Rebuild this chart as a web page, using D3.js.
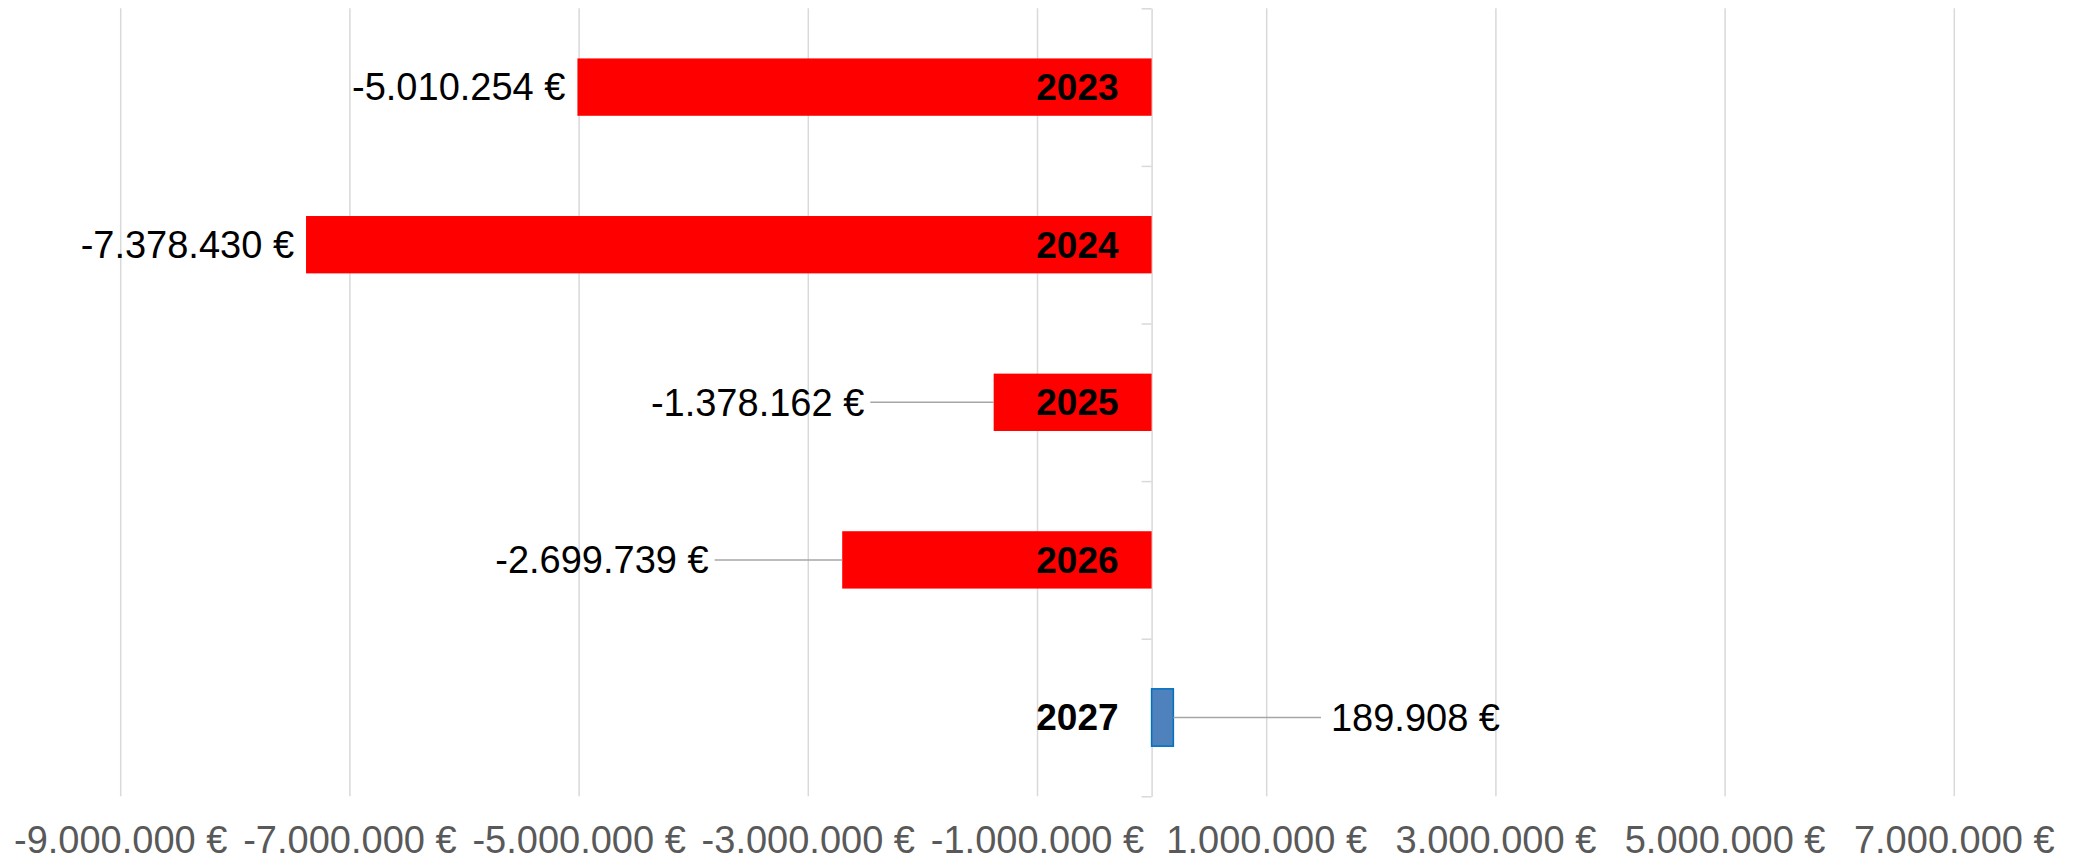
<!DOCTYPE html>
<html>
<head>
<meta charset="utf-8">
<script src="https://cdn.jsdelivr.net/npm/d3@7"></script>
<style>
  body { margin: 0; background: #fff; }
  svg { display: block; font-family: "Liberation Sans", Arial, sans-serif; }
</style>
</head>
<body>
<div id="chart"></div>
<script>
// data
const years = ["2023", "2024", "2025", "2026", "2027"];
const values = [-5010254, -7378430, -1378162, -2699739, 189908];
const xTicks = [-9000000, -7000000, -5000000, -3000000, -1000000, 1000000, 3000000, 5000000, 7000000];
// where moved labels sit (in axis units), null = next to bar
const labelAt = [null, null, -2507000, -3865000, 1565000];

const width = 2075, height = 862;
const plotLeft = 120.2, plotRight = 1953.8, plotTop = 8.3, plotBottom = 796.3;

const fmt = d3.formatLocale({
  decimal: ",", thousands: ".", grouping: [3], currency: ["", " €"], minus: "-"
}).format("$,.0f");

const svg = d3.select("#chart").append("svg")
  .attr("width", width)
  .attr("height", height);

const x = d3.scaleLinear().domain([-9000000, 7000000]).range([plotLeft, plotRight]);
const y = d3.scaleBand().domain(years).range([plotTop, plotBottom])
  .paddingInner(0.636).paddingOuter(0.318);

// gridlines + x labels
const xAxis = g => g
  .attr("transform", `translate(0,${plotBottom})`)
  .call(d3.axisBottom(x)
    .tickValues(xTicks)
    .tickSizeInner(-(plotBottom - plotTop))
    .tickSizeOuter(0)
    .tickPadding(30)
    .tickFormat(fmt))
  .call(g => g.select(".domain").remove())
  .call(g => g.selectAll(".tick line").attr("stroke", "#d9d9d9").attr("stroke-width", 1.5))
  .call(g => g.selectAll(".tick text")
    .attr("fill", "#595959")
    .attr("font-size", 38)
    .attr("font-family", "Liberation Sans, Arial, sans-serif"));

svg.append("g").call(xAxis);

// category axis at zero, ticks between bands
const yEdges = d3.scaleLinear().domain([0, years.length]).range([plotTop, plotBottom]);
svg.append("g")
  .attr("transform", `translate(${x(0)},0)`)
  .call(d3.axisLeft(yEdges).ticks(years.length).tickSizeInner(10).tickSizeOuter(0).tickFormat(""))
  .call(g => g.select(".domain").attr("stroke", "#d9d9d9").attr("stroke-width", 1.5))
  .call(g => g.selectAll(".tick line").attr("stroke", "#d9d9d9").attr("stroke-width", 1.5));

const rows = years.map((yr, i) => ({ year: yr, value: values[i], at: labelAt[i] }));

// bars
svg.append("g")
  .selectAll("rect")
  .data(rows)
  .join("rect")
  .attr("x", d => x(Math.min(0, d.value)))
  .attr("y", d => y(d.year))
  .attr("width", d => Math.abs(x(d.value) - x(0)))
  .attr("height", y.bandwidth())
  .attr("fill", d => d.value < 0 ? "#ff0000" : "#4f81bd")
  .attr("stroke", d => d.value < 0 ? "none" : "#0070c0")
  .attr("stroke-width", 1.5);

const cy = d => y(d.year) + y.bandwidth() / 2;

// leader lines for moved labels
svg.append("g")
  .selectAll("line")
  .data(rows.filter(d => d.at != null))
  .join("line")
  .attr("x1", d => x(d.value))
  .attr("x2", d => d.value < 0 ? x(d.at) + 6 : x(d.at) - 10)
  .attr("y1", cy)
  .attr("y2", cy)
  .attr("stroke", "#a6a6a6")
  .attr("stroke-width", 1.5);

// value labels
svg.append("g")
  .selectAll("text")
  .data(rows)
  .join("text")
  .attr("x", d => d.at != null ? x(d.at) : (d.value < 0 ? x(d.value) - 12 : x(d.value) + 12))
  .attr("y", cy)
  .attr("dy", "0.35em")
  .attr("text-anchor", d => d.value < 0 ? "end" : "start")
  .attr("font-size", 38)
  .attr("fill", "#000")
  .text(d => fmt(d.value));

// year labels
svg.append("g")
  .selectAll("text")
  .data(rows)
  .join("text")
  .attr("x", x(0) - 33)
  .attr("y", cy)
  .attr("dy", "0.35em")
  .attr("text-anchor", "end")
  .attr("font-size", 37)
  .attr("font-weight", "bold")
  .attr("fill", "#000")
  .text(d => d.year);
</script>
</body>
</html>
